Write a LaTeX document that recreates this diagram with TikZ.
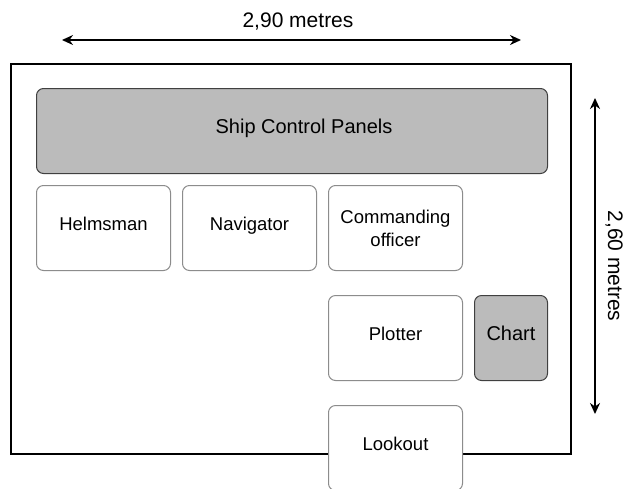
\documentclass[tikz,border=0pt]{standalone}
\usepackage{fontspec}
\setmainfont{Liberation Sans}
\usetikzlibrary{arrows.meta}
\definecolor{panelgray}{HTML}{BBBBBB}
\definecolor{boxedge}{HTML}{8C8C8C}
\begin{document}
\begin{tikzpicture}[x=1pt,y=-1pt,
  box/.style={draw=boxedge,line width=1pt,rounded corners=7pt,fill=white,
    minimum width=134pt,minimum height=85pt,inner sep=0pt,anchor=north west,
    font=\fontsize{18.5}{23}\selectfont},
  oneline/.style={text height=13pt,text depth=8pt},
  graybox/.style={box,oneline,fill=panelgray,draw=black!75,font=\fontsize{20}{24}\selectfont},
  dim/.style={line width=2pt,{Stealth[length=11pt,width=10pt]}-{Stealth[length=11pt,width=10pt]}},
  lbl/.style={font=\fontsize{21}{24}\selectfont,inner sep=0pt,anchor=base}]
\useasboundingbox (0,0) rectangle (626,488);
\clip (0,0) rectangle (626,488);
\fill[white] (0,0) rectangle (626,488);
\draw[line width=2pt] (11,64) rectangle (571,454);
\node[graybox,minimum width=511pt] (scp) at (36,88) {\hspace*{24pt}Ship Control Panels};
\node[box,oneline] (helm) at (36,185) {Helmsman};
\node[box,oneline] (nav) at (182,185) {Navigator};
\node[box,align=center] (co) at (328,185) {Commanding\\officer};
\node[box,oneline] (plot) at (328,295) {Plotter};
\node[graybox,minimum width=73pt] (chart) at (474,295) {Chart};
\node[box,oneline] (look) at (328,405) {Lookout};
\coordinate (hl) at (62,40);
\coordinate (hr) at (521,40);
\draw[dim] (hl) -- (hr);
\node[lbl] (wlab) at (298,27) {2,90 metres};
\coordinate (vt) at (595,98);
\coordinate (vb) at (595,414);
\draw[dim] (vt) -- (vb);
\node[lbl,rotate=-90] (hlab) at (608,266) {2,60 metres};
\end{tikzpicture}
\end{document}
